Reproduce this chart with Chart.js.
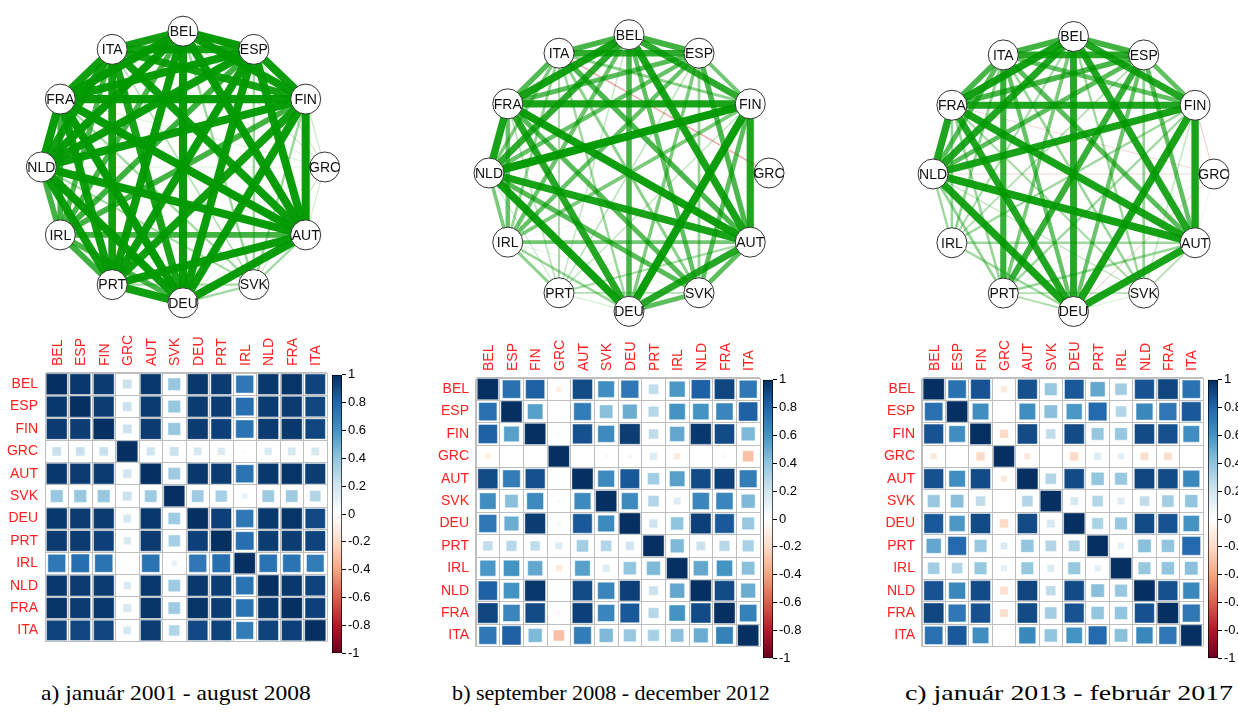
<!DOCTYPE html>
<html>
<head>
<meta charset="utf-8">
<script src="https://cdn.jsdelivr.net/npm/chart.js@4/dist/chart.umd.min.js"></script>
<style>
  html, body { margin: 0; padding: 0; background: #fff; }
  body { width: 1238px; height: 720px; position: relative; overflow: hidden; }
  canvas { position: absolute; }
  .cap { position: absolute; width: 440px; text-align: center; white-space: nowrap;
         font-family: "Liberation Serif", "Times New Roman", serif; font-size: 21px; line-height: 21px;
         color: #000; transform-origin: 50% 50%; }
</style>
</head>
<body>
<canvas id="netA" width="372" height="358" style="left:-3px;top:-12px"></canvas>
<canvas id="netB" width="368" height="364" style="left:445px;top:-9px"></canvas>
<canvas id="netC" width="369" height="362" style="left:889px;top:-7px"></canvas>

<canvas id="matA" width="329" height="334" style="left:0px;top:323px"></canvas>
<canvas id="matB" width="331" height="334" style="left:431px;top:328px"></canvas>
<canvas id="matC" width="328" height="334" style="left:877px;top:328px"></canvas>

<canvas id="barA" width="40" height="298" style="left:332px;top:365px"></canvas>
<canvas id="barB" width="40" height="298" style="left:763px;top:370px"></canvas>
<canvas id="barC" width="40" height="298" style="left:1208px;top:370px"></canvas>

<div class="cap" style="left:-44px;top:683px;transform:scaleX(1.12)">a) január 2001 - august 2008</div>
<div class="cap" style="left:391px;top:683px;transform:scaleX(1.05)">b) september 2008 - december 2012</div>
<div class="cap" style="left:849px;top:682px;font-size:22px;transform:scaleX(1.27)">c) január 2013 - február 2017</div>

<script>
// Countries in the order used by both the circle graphs and the matrices
const countries = ['BEL', 'ESP', 'FIN', 'GRC', 'AUT', 'SVK', 'DEU', 'PRT', 'IRL', 'NLD', 'FRA', 'ITA'];

// Correlation matrix, január 2001 - august 2008
const corr2001 = [
  [1.00, 0.97, 0.96, 0.22, 0.97, 0.38, 0.97, 0.96, 0.72, 0.97, 0.98, 0.93],
  [0.97, 1.00, 0.95, 0.22, 0.96, 0.38, 0.96, 0.96, 0.76, 0.96, 0.96, 0.92],
  [0.96, 0.95, 1.00, 0.22, 0.96, 0.38, 0.96, 0.94, 0.74, 0.96, 0.97, 0.92],
  [0.22, 0.22, 0.22, 1.00, 0.20, 0.22, 0.18, 0.16, -0.04, 0.16, 0.18, 0.18],
  [0.97, 0.96, 0.96, 0.20, 1.00, 0.36, 0.97, 0.96, 0.74, 0.97, 0.98, 0.95],
  [0.38, 0.38, 0.38, 0.22, 0.36, 1.00, 0.36, 0.34, 0.10, 0.36, 0.36, 0.30],
  [0.97, 0.96, 0.96, 0.18, 0.97, 0.36, 1.00, 0.94, 0.72, 0.97, 0.98, 0.91],
  [0.96, 0.96, 0.94, 0.16, 0.96, 0.34, 0.94, 1.00, 0.76, 0.95, 0.95, 0.93],
  [0.72, 0.76, 0.74, -0.04, 0.74, 0.10, 0.72, 0.76, 1.00, 0.74, 0.74, 0.70],
  [0.97, 0.96, 0.96, 0.16, 0.97, 0.36, 0.97, 0.95, 0.74, 1.00, 0.97, 0.93],
  [0.98, 0.96, 0.97, 0.18, 0.98, 0.36, 0.98, 0.95, 0.74, 0.97, 1.00, 0.94],
  [0.93, 0.92, 0.92, 0.18, 0.95, 0.30, 0.91, 0.93, 0.70, 0.93, 0.94, 1.00]
];

// Correlation matrix, september 2008 - december 2012
const corr2008 = [
  [1.00, 0.75, 0.82, -0.10, 0.90, 0.62, 0.72, 0.25, 0.58, 0.82, 0.92, 0.72],
  [0.75, 1.00, 0.55, -0.03, 0.70, 0.42, 0.50, 0.28, 0.60, 0.60, 0.66, 0.82],
  [0.82, 0.55, 1.00, 0.03, 0.88, 0.64, 0.95, 0.25, 0.52, 0.97, 0.90, 0.45],
  [-0.10, -0.03, 0.03, 1.00, 0.00, 0.05, 0.06, 0.15, -0.12, -0.02, -0.05, -0.30],
  [0.90, 0.70, 0.88, 0.00, 1.00, 0.64, 0.85, 0.35, 0.55, 0.90, 0.94, 0.70],
  [0.62, 0.42, 0.64, 0.05, 0.64, 1.00, 0.64, 0.30, 0.15, 0.66, 0.66, 0.45],
  [0.72, 0.50, 0.95, 0.06, 0.85, 0.64, 1.00, 0.20, 0.40, 0.94, 0.85, 0.38],
  [0.25, 0.28, 0.25, 0.15, 0.35, 0.30, 0.20, 1.00, 0.45, 0.22, 0.28, 0.33],
  [0.58, 0.60, 0.52, -0.12, 0.55, 0.15, 0.40, 0.45, 1.00, 0.52, 0.60, 0.42],
  [0.82, 0.60, 0.97, -0.02, 0.90, 0.66, 0.94, 0.22, 0.52, 1.00, 0.90, 0.50],
  [0.92, 0.66, 0.90, -0.05, 0.94, 0.66, 0.85, 0.28, 0.60, 0.90, 1.00, 0.68],
  [0.72, 0.82, 0.45, -0.30, 0.70, 0.45, 0.38, 0.33, 0.42, 0.50, 0.68, 1.00]
];

// Correlation matrix, január 2013 - február 2017
const corr2013 = [
  [1.00, 0.75, 0.87, -0.12, 0.88, 0.38, 0.85, 0.52, 0.35, 0.87, 0.92, 0.75],
  [0.75, 1.00, 0.62, -0.02, 0.62, 0.42, 0.58, 0.78, 0.30, 0.65, 0.72, 0.85],
  [0.87, 0.62, 1.00, -0.20, 0.90, 0.25, 0.90, 0.38, 0.38, 0.90, 0.88, 0.62],
  [-0.12, -0.02, -0.20, 1.00, -0.12, -0.02, -0.20, 0.15, 0.12, -0.18, -0.18, -0.02],
  [0.88, 0.62, 0.90, -0.12, 1.00, 0.30, 0.90, 0.40, 0.38, 0.92, 0.90, 0.65],
  [0.38, 0.42, 0.25, -0.02, 0.30, 1.00, 0.18, 0.30, 0.15, 0.25, 0.35, 0.40],
  [0.85, 0.58, 0.90, -0.20, 0.90, 0.18, 1.00, 0.32, 0.38, 0.90, 0.87, 0.60],
  [0.52, 0.78, 0.38, 0.15, 0.40, 0.30, 0.32, 1.00, 0.12, 0.42, 0.40, 0.78],
  [0.35, 0.30, 0.38, 0.12, 0.38, 0.15, 0.38, 0.12, 1.00, 0.38, 0.40, 0.42],
  [0.87, 0.65, 0.90, -0.18, 0.92, 0.25, 0.90, 0.42, 0.38, 1.00, 0.88, 0.65],
  [0.92, 0.72, 0.88, -0.18, 0.90, 0.35, 0.87, 0.40, 0.40, 0.88, 1.00, 0.72],
  [0.75, 0.85, 0.62, -0.02, 0.65, 0.40, 0.60, 0.78, 0.42, 0.65, 0.72, 1.00]
];

// Colour bar tick values
const barTicks = [-1, -0.8, -0.6, -0.4, -0.2, 0, 0.2, 0.4, 0.6, 0.8, 1];

// Diverging red-white-blue palette, from -1 to 1
const palette = ['#67001F', '#B2182B', '#D6604D', '#F4A582', '#FDDBC7', '#FFFFFF',
                 '#D1E5F0', '#92C5DE', '#4393C3', '#2166AC', '#053061'];

Chart.defaults.font.family = '"Liberation Sans", Arial, sans-serif';

function hexRgb(h) {
  return [parseInt(h.slice(1, 3), 16), parseInt(h.slice(3, 5), 16), parseInt(h.slice(5, 7), 16)];
}
function corrColor(v) {
  const t = (Math.max(-1, Math.min(1, v)) + 1) / 2 * (palette.length - 1);
  const i = Math.min(palette.length - 2, Math.floor(t));
  const f = t - i;
  const a = hexRgb(palette[i]), b = hexRgb(palette[i + 1]);
  const c = a.map((x, k) => Math.round(x + (b[k] - x) * f));
  return `rgb(${c[0]},${c[1]},${c[2]})`;
}

const noInteraction = { legend: { display: false }, tooltip: { enabled: false } };

// Node captions on top of the circles
const nodeLabels = {
  id: 'nodeLabels',
  afterDatasetsDraw(chart) {
    const idx = chart.data.datasets.findIndex(d => d.isNodes);
    const meta = chart.getDatasetMeta(idx);
    const ctx = chart.ctx;
    ctx.save();
    ctx.font = '14px "Liberation Sans", Arial, sans-serif';
    ctx.fillStyle = '#111';
    ctx.textAlign = 'center';
    ctx.textBaseline = 'middle';
    meta.data.forEach((pt, i) => ctx.fillText(countries[i], pt.x, pt.y + 1));
    ctx.restore();
  }
};

function networkChart(id, M) {
  const n = countries.length;
  const pos = countries.map((c, i) => ({ x: Math.sin(2 * Math.PI * i / n), y: Math.cos(2 * Math.PI * i / n) }));
  const datasets = [];
  for (let i = 0; i < n; i++) {
    for (let j = i + 1; j < n; j++) {
      const w = M[i][j];
      if (w === 0) continue;
      const a = Math.min(1, Math.abs(w));
      datasets.push({
        data: [{ ...pos[i] }, { ...pos[j] }],
        showLine: true,
        pointRadius: 0,
        borderColor: w > 0 ? `rgba(0,153,0,${a})` : `rgba(191,0,0,${a})`,
        borderWidth: 8.5 * Math.pow(a, 1.3),
        order: 1 - a
      });
    }
  }
  datasets.push({
    isNodes: true,
    data: pos.map(p => ({ ...p })),
    showLine: false,
    pointRadius: 15,
    pointHoverRadius: 15,
    pointBackgroundColor: '#fff',
    pointBorderColor: '#333',
    pointBorderWidth: 1,
    order: -1
  });
  new Chart(document.getElementById(id), {
    type: 'scatter',
    data: { datasets },
    options: {
      responsive: false, animation: false, events: [],
      plugins: noInteraction,
      scales: {
        x: { display: false, min: -1.2, max: 1.2 },
        y: { display: false, min: -1.2, max: 1.2 }
      }
    },
    plugins: [nodeLabels]
  });
}

function matrixChart(id, M) {
  const pts = [];
  M.forEach((row, i) => row.forEach((v, j) => pts.push({ x: countries[j], y: countries[i], v })));
  const side = c => {
    const a = c.chart.chartArea;
    if (!c.raw || !a) return 0;
    const cell = Math.min((a.right - a.left), (a.bottom - a.top)) / countries.length;
    return Math.max(0, Math.sqrt(Math.abs(c.raw.v)) * cell - 1.2) / Math.SQRT2;
  };
  const labelFont = { size: 14 };
  new Chart(document.getElementById(id), {
    type: 'scatter',
    data: {
      datasets: [{
        data: pts,
        pointStyle: 'rect',
        pointRadius: side,
        pointHoverRadius: side,
        pointBackgroundColor: c => c.raw ? corrColor(c.raw.v) : '#fff',
        pointBorderColor: 'rgba(255,255,255,0.45)',
        pointBorderWidth: 1
      }]
    },
    options: {
      responsive: false, animation: false, events: [],
      layout: { padding: { right: 2, bottom: 2 } },
      plugins: noInteraction,
      scales: {
        x: {
          type: 'category', labels: countries, position: 'top', offset: true,
          grid: { offset: true, color: '#BEBEBE', drawTicks: false },
          border: { color: '#BEBEBE' },
          ticks: { color: '#FF2020', font: labelFont, minRotation: 90, maxRotation: 90, padding: 7,
                   labelOffset: 18, autoSkip: false },
          afterFit: s => { s.height = 50; }
        },
        y: {
          type: 'category', labels: countries, offset: true,
          grid: { offset: true, color: '#BEBEBE', drawTicks: false },
          border: { color: '#BEBEBE' },
          ticks: { color: '#FF2020', font: labelFont, padding: 7, autoSkip: false },
          afterFit: s => { s.width = 45; }
        }
      }
    }
  });
}

function colorBar(id) {
  new Chart(document.getElementById(id), {
    type: 'bar',
    data: {
      labels: [''],
      datasets: [{
        data: [[barTicks[0], barTicks[barTicks.length - 1]]],
        backgroundColor: c => {
          const a = c.chart.chartArea;
          if (!a) return '#fff';
          const g = c.chart.ctx.createLinearGradient(0, a.bottom, 0, a.top);
          palette.forEach((col, k) => g.addColorStop(k / (palette.length - 1), col));
          return g;
        },
        borderColor: '#000',
        borderWidth: 1,
        borderSkipped: false,
        barPercentage: 1,
        categoryPercentage: 1
      }]
    },
    options: {
      responsive: false, animation: false, events: [],
      layout: { padding: { top: 8, bottom: 8 } },
      plugins: noInteraction,
      scales: {
        x: { display: false },
        y: {
          position: 'right', min: barTicks[0], max: barTicks[barTicks.length - 1],
          afterBuildTicks: s => { s.ticks = barTicks.map(v => ({ value: v })); },
          ticks: { color: '#000', font: { size: 13 }, padding: 2, callback: v => String(Math.round(v * 10) / 10) },
          grid: { drawOnChartArea: false, drawTicks: true, tickLength: 4, color: '#000' },
          border: { display: false },
          afterFit: s => { s.width = 30; }
        }
      }
    }
  });
}

networkChart('netA', corr2001);
networkChart('netB', corr2008);
networkChart('netC', corr2013);
matrixChart('matA', corr2001);
matrixChart('matB', corr2008);
matrixChart('matC', corr2013);
colorBar('barA');
colorBar('barB');
colorBar('barC');
</script>
</body>
</html>
